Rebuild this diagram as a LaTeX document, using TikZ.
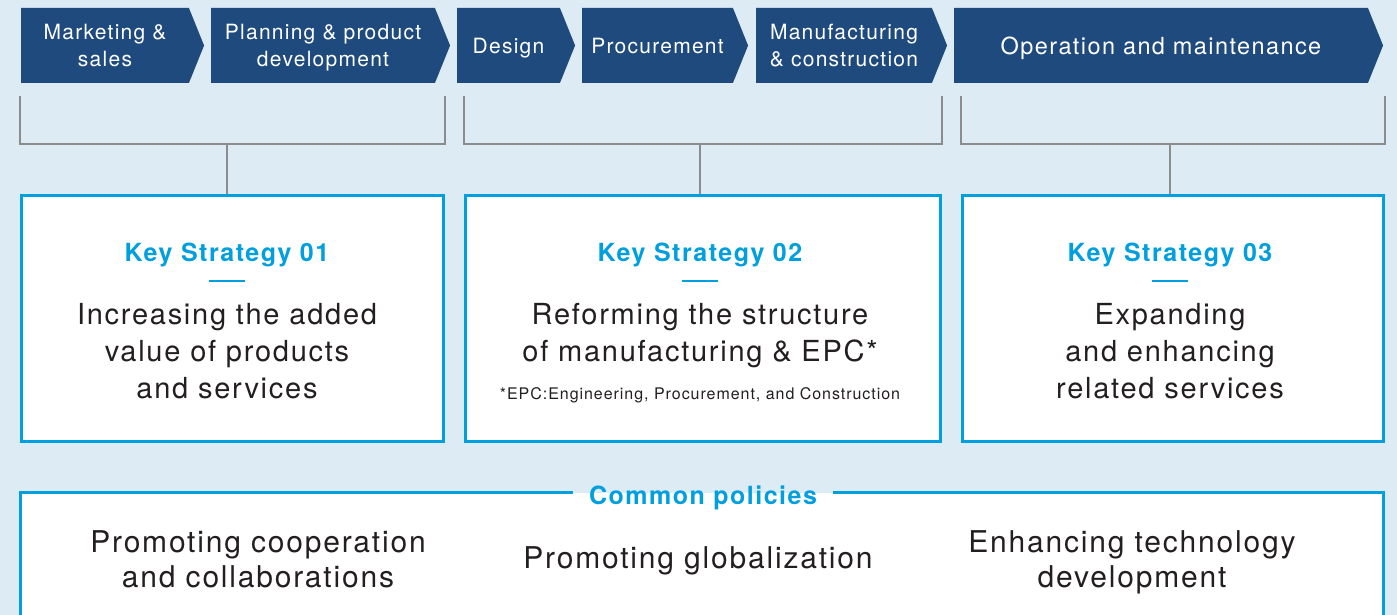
\documentclass[tikz,border=0pt]{standalone}
\usepackage{fontspec}
\setmainfont{TeX Gyre Heros}[LetterSpace=6]
\usetikzlibrary{positioning, shapes.symbols, calc}

\definecolor{bgblue}{HTML}{DCEBF4}
\definecolor{chevblue}{HTML}{1F4A7E}
\definecolor{keycyan}{HTML}{009FE0}
\definecolor{brgray}{HTML}{8C8C8C}
\definecolor{textdark}{HTML}{231F20}

\begin{document}
\begin{tikzpicture}[
    x=1pt, y=-1pt,
    chev/.style={signal, signal to=east, signal from=nowhere, signal pointer angle=136,
      fill=chevblue, text=white, inner sep=0pt, minimum height=75pt, align=center,
      text depth=0pt, font=\fontsize{21}{27}\selectfont},
    keybox/.style={draw=keycyan, line width=3pt, fill=white, minimum height=246pt},
    keytitle/.style={text=keycyan, anchor=base, font=\bfseries\fontsize{25}{30}\selectfont},
    keyrule/.style={keycyan, line width=2.5pt},
    keytext/.style={text=textdark, anchor=base, align=center, font=\fontsize{29}{37}\selectfont},
    bracket/.style={draw=brgray, line width=2pt},
    polline/.style={draw=keycyan, line width=3pt}
]

\useasboundingbox (0,0) rectangle (1397,615);
\fill[bgblue] (0,0) rectangle (1397,615);

% Value chain
\node[chev, minimum width=183pt] (c1) at (105,45.5) {Marketing \&\\sales};
\node[chev, minimum width=239pt] (c2) at (323,45.5) {Planning \& product\\development};
\node[chev, minimum width=118pt] (c3) at (508.5,45.5) {Design};
\node[chev, minimum width=166pt] (c4) at (657.5,45.5) {Procurement};
\node[chev, minimum width=191pt] (c5) at (844,45.5) {Manufacturing\\\& construction};
\node[chev, minimum width=429pt, font=\fontsize{23.5}{28}\selectfont] (c6) at (1161,45.5) {Operation and maintenance};

% Key strategy boxes
\node[keybox, minimum width=422pt] (b1) at (232,318) {};
\node[keybox, minimum width=475pt] (b2) at (702.5,318) {};
\node[keybox, minimum width=421pt] (b3) at (1172.5,318) {};

\node[keytitle] (k1) at (227,261) {Key Strategy 01};
\node[keytitle] (k2) at (700,261) {Key Strategy 02};
\node[keytitle] (k3) at (1170,261) {Key Strategy 03};

\draw[keyrule] ($(k1.base)+(-18,20)$) -- ++(36,0);
\draw[keyrule] ($(k2.base)+(-18,20)$) -- ++(36,0);
\draw[keyrule] ($(k3.base)+(-18,20)$) -- ++(36,0);

% base sits on the last line
\node[keytext] (t1) at (227,398) {Increasing the added\\value of products\\and services};
\node[keytext] (t2) at (700,361) {Reforming the structure\\of manufacturing \& EPC*};
\node[keytext] (t3) at (1170,398) {Expanding\\and enhancing\\related services};
\node[text=textdark, anchor=base, font=\fontsize{16}{19}\selectfont] (fn) at (700,399)
  {*EPC:Engineering, Procurement, and Construction};

% Brackets from the chain down to each box
\draw[bracket] ($(b1.north west)+(0,-97)$) |- ($(b1.north east)+(0,-49)$) -- ++(0,-48);
\draw[bracket] ($(b2.north west)+(0,-97)$) |- ($(b2.north east)+(0,-49)$) -- ++(0,-48);
\draw[bracket] ($(b3.north west)+(0,-97)$) |- ($(b3.north east)+(0,-49)$) -- ++(0,-48);
\draw[bracket] ($(k1 |- b1.north)+(0,-49)$) -- (k1 |- b1.north);
\draw[bracket] ($(k2 |- b2.north)+(0,-49)$) -- (k2 |- b2.north);
\draw[bracket] ($(k3 |- b3.north)+(0,-49)$) -- (k3 |- b3.north);

% Common policies
\node[fill=white, minimum width=1362pt, minimum height=200pt] (pol) at (702,593) {};
\node[keytitle, inner xsep=16pt] (cp) at (703,504) {Common policies};
\draw[polline] (cp.west |- pol.north) -- (pol.north west) -- (pol.south west);
\draw[polline] (cp.east |- pol.north) -- (pol.north east) -- (pol.south east);

\node[keytext, font=\fontsize{30}{35}\selectfont] (p1) at (258,587) {Promoting cooperation\\and collaborations};
\node[keytext, font=\fontsize{30}{35}\selectfont] (p2) at (698,568) {Promoting globalization};
\node[keytext, font=\fontsize{30}{35}\selectfont] (p3) at (1132,587) {Enhancing technology\\development};

\end{tikzpicture}
\end{document}
